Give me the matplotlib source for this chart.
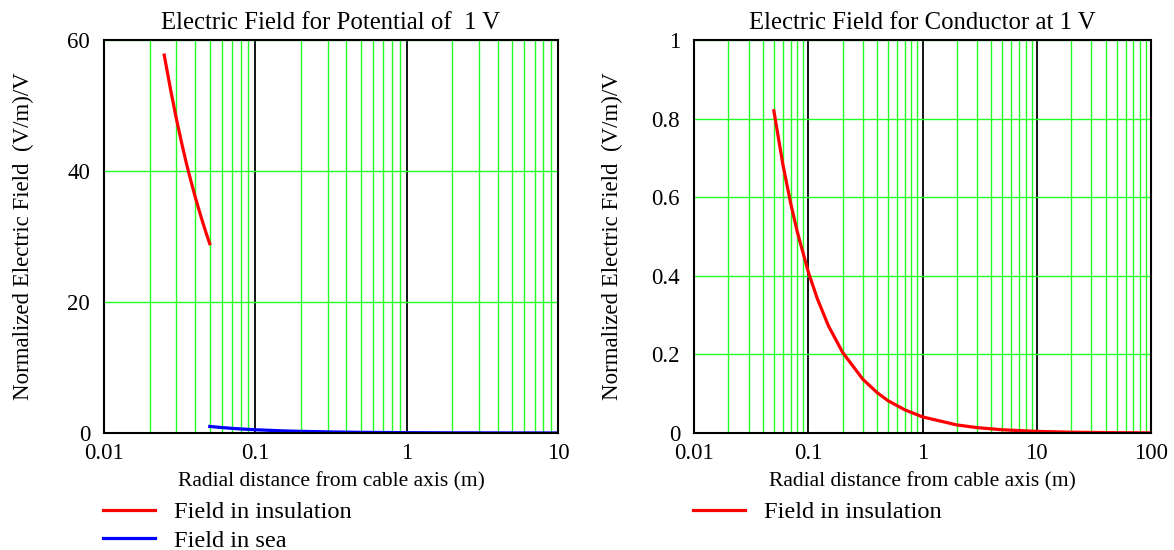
import matplotlib
matplotlib.use('Agg')
import matplotlib.pyplot as plt
from matplotlib.ticker import FixedLocator, LogLocator, NullFormatter

plt.rcParams['font.family'] = ['Liberation Serif', 'DejaVu Serif']

# left plot: potential of 1 V
r_ins1 = [0.025, 0.0275, 0.03, 0.0325, 0.035, 0.0375, 0.04, 0.0425, 0.045, 0.0475, 0.05]
e_ins1 = [57.7, 52.5, 48.1, 44.4, 41.2, 38.5, 36.1, 34.0, 32.1, 30.4, 28.9]
r_sea1 = [0.05, 0.06, 0.07, 0.08, 0.1, 0.15, 0.2, 0.3, 0.5, 1, 2, 5, 10]
e_sea1 = [1.0, 0.83, 0.71, 0.62, 0.5, 0.33, 0.25, 0.17, 0.1, 0.05, 0.025, 0.01, 0.005]

# right plot: conductor at 1 V
r_ins2 = [0.05, 0.06, 0.07, 0.08, 0.1, 0.12, 0.15, 0.2, 0.3, 0.4, 0.5, 0.7,
          1, 2, 3, 5, 10, 20, 50, 100]
e_ins2 = [0.82, 0.683, 0.586, 0.513, 0.41, 0.342, 0.273, 0.205, 0.137, 0.103,
          0.082, 0.059, 0.041, 0.0205, 0.0137, 0.0082, 0.0041, 0.002, 0.0008, 0.0004]

x_ticks1 = [0.01, 0.1, 1, 10]
x_ticks2 = [0.01, 0.1, 1, 10, 100]
y_ticks1 = [0, 20, 40, 60]
y_ticks2 = [0, 0.2, 0.4, 0.6, 0.8, 1]
y_labels2 = ['0', '0.2', '0.4', '0.6', '0.8', '1']

fig = plt.figure(figsize=(11.74, 5.5), dpi=100)
ax1 = fig.add_axes([104 / 1174, 117 / 550, 454 / 1174, 393 / 550])
ax2 = fig.add_axes([694 / 1174, 117 / 550, 457 / 1174, 393 / 550])


def style(ax, xt, yt, ylab, xlim, ylim, title):
    ax.set_xscale('log')
    ax.set_xlim(*xlim)
    ax.set_ylim(*ylim)
    ax.xaxis.set_major_locator(FixedLocator(xt))
    ax.set_xticklabels([('%g' % v) for v in xt])
    ax.xaxis.set_minor_locator(LogLocator(base=10, subs=range(2, 10), numticks=50))
    ax.xaxis.set_minor_formatter(NullFormatter())
    ax.yaxis.set_major_locator(FixedLocator(yt))
    ax.set_yticklabels(ylab)
    ax.tick_params(which='both', length=0, labelsize=16.5)
    ax.tick_params(axis='x', pad=7)
    ax.tick_params(axis='y', pad=10)
    ax.grid(True, which='minor', axis='x', color='#22ff22', lw=1)
    ax.grid(True, which='major', axis='x', color='black', lw=1.3)
    ax.grid(True, which='major', axis='y', color='#22ff22', lw=1)
    ax.set_axisbelow(True)
    for s in ax.spines.values():
        s.set_linewidth(1.5)
        s.set_color('black')
    ax.set_title(title, fontsize=17.8, pad=8)
    ax.set_xlabel('Radial distance from cable axis (m)', fontsize=15.5)
    ax.set_ylabel('Normalized Electric Field  (V/m)/V', fontsize=16.5)
    ax.xaxis.set_label_coords(0.5, -0.10)
    ax.yaxis.set_label_coords(-0.155, 0.5)


style(ax1, x_ticks1, y_ticks1, [str(v) for v in y_ticks1], (0.01, 10), (0, 60),
      'Electric Field for Potential of  1 V')
style(ax2, x_ticks2, y_ticks2, y_labels2, (0.01, 100), (0, 1),
      'Electric Field for Conductor at 1 V')

ax1.plot(r_ins1, e_ins1, color='red', lw=2.3, label='Field in insulation')
ax1.plot(r_sea1, e_sea1, color='blue', lw=2.3, label='Field in sea')
ax2.plot(r_ins2, e_ins2, color='red', lw=2.3, label='Field in insulation')

for ax in (ax1, ax2):
    ax.legend(loc='upper left', bbox_to_anchor=(-0.003, -0.173), frameon=False,
              fontsize=17.6, handlelength=2.13, handletextpad=0.78,
              labelspacing=0.27, borderaxespad=0, borderpad=0)

fig.savefig('out.png', dpi=100)
